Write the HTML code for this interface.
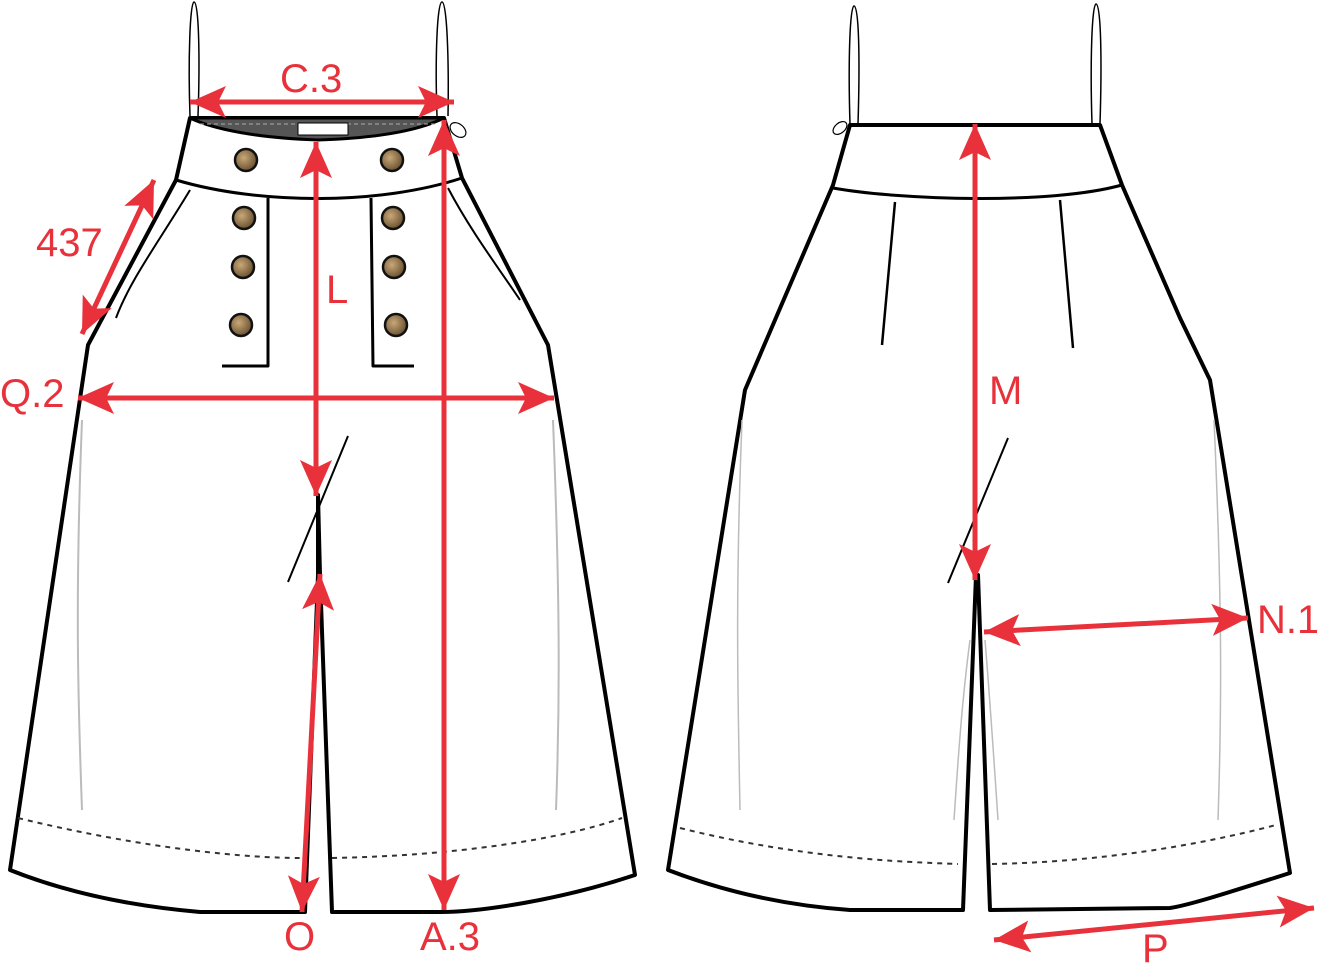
<!DOCTYPE html>
<html><head><meta charset="utf-8"><style>
html,body{margin:0;padding:0;background:#fff;}
svg{display:block;}
text{font-family:"Liberation Sans",sans-serif;fill:#e8313a;font-size:40px;}
</style></head><body>
<svg width="1317" height="964" viewBox="0 0 1317 964" xmlns="http://www.w3.org/2000/svg">
<defs>
<marker id="ah" viewBox="0 0 10 10" refX="10" refY="5" markerWidth="36" markerHeight="32" markerUnits="userSpaceOnUse" orient="auto-start-reverse" preserveAspectRatio="none">
<path d="M0,0 L10,5 L0,10 L2.2,5 Z" fill="#e8313a"/></marker>
<radialGradient id="btn" cx="40%" cy="40%" r="60%"><stop offset="0" stop-color="#c9a878"/><stop offset="1" stop-color="#6b5332"/></radialGradient>
</defs>
<g fill="none" stroke="#000" stroke-linejoin="round">
<path d="M190,116 C188,60 190,2 194,2 C199,2 200,60 198,116" stroke-width="1.5"/>
<path d="M437,116 C435,60 437,2 442,2 C447,2 449,60 448,116" stroke-width="1.5"/>
<path d="M190,118 L444,118 L462,178 L548,345 L635,875 C560,900 480,912 440,912 L332,912 L320,575 L318,495 L318,575 L305,912 L200,912 C120,905 60,890 10,870 L88,345 L176,180 Z" fill="#fff" stroke-width="4"/>
<path d="M190,118 L444,118 C420,130 380,138 318,140 C260,138 215,130 190,118 Z" fill="#555" stroke="#000" stroke-width="3"/>
<path d="M200,124 L436,124" stroke="#aaa" stroke-width="1" stroke-dasharray="4,3"/>
<rect x="298" y="123" width="50" height="12" fill="#fff" stroke="#000" stroke-width="1"/>
<path d="M176,180 C260,205 380,205 462,178" stroke-width="3"/>
<path d="M268,198 L268,366 L222,366" stroke-width="3"/>
<path d="M371,198 L373,366 L414,366" stroke-width="3"/>
<path d="M190,190 C160,240 130,280 116,318" stroke-width="2"/>
<path d="M448,188 C470,230 500,270 520,300" stroke-width="2"/>
<path d="M348,436 L288,582" stroke-width="2"/>
<path d="M18,818 C150,850 250,858 300,858 M332,858 C450,856 560,840 622,818" stroke="#333" stroke-width="2" stroke-dasharray="5,5"/>
<path d="M82,420 C75,600 78,700 82,810 M553,420 C560,600 560,700 556,810" stroke="#bbb" stroke-width="2"/>
<ellipse cx="458" cy="130" rx="6" ry="9" transform="rotate(-50 458 130)" stroke-width="1.2"/>
<ellipse cx="840" cy="128" rx="5" ry="8" transform="rotate(50 840 128)" stroke-width="1.2"/>
<path d="M850,124 C848,60 850,6 854,6 C859,6 860,60 858,124" stroke-width="1.5"/>
<path d="M1092,124 C1090,60 1092,4 1096,4 C1101,4 1102,60 1100,124" stroke-width="1.5"/>
<path d="M850,125 L1100,125 L1122,185 L1180,318 L1210,380 L1290,873 C1230,892 1190,905 1170,908 L990,910 L978,575 L976,575 L963,910 L850,910 C780,905 720,890 668,870 L745,390 L775,320 L833,185 Z" fill="#fff" stroke-width="4"/>
<path d="M833,188 C900,200 1050,205 1122,185" stroke-width="3"/>
<path d="M895,202 L882,345 M1060,200 L1073,348" stroke-width="2.5"/>
<path d="M1008,438 L948,583" stroke-width="2"/>
<path d="M680,828 C800,858 900,862 958,864 M992,864 C1100,862 1200,845 1276,825" stroke="#333" stroke-width="2" stroke-dasharray="5,5"/>
<path d="M742,420 C735,600 738,700 740,810 M1214,420 C1222,600 1222,700 1218,820 M970,640 C962,700 958,760 954,820 M985,640 C990,700 994,760 998,820" stroke="#bbb" stroke-width="1.5"/>
</g>
<g stroke="#111" stroke-width="2.5" fill="url(#btn)">
<circle cx="246" cy="160" r="11"/><circle cx="392" cy="160" r="11"/>
<circle cx="244" cy="218" r="11"/><circle cx="393" cy="218" r="11"/>
<circle cx="243" cy="267" r="11"/><circle cx="394" cy="267" r="11"/>
<circle cx="241" cy="325" r="11"/><circle cx="396" cy="325" r="11"/>
</g>
<g stroke="#e8313a" stroke-width="5" fill="none" stroke-linecap="butt">
<line x1="190" y1="102" x2="454" y2="102" marker-start="url(#ah)" marker-end="url(#ah)"/>
<line x1="316" y1="142" x2="316" y2="496" marker-start="url(#ah)" marker-end="url(#ah)"/>
<line x1="444" y1="120" x2="444" y2="910" marker-start="url(#ah)" marker-end="url(#ah)"/>
<line x1="78" y1="398" x2="554" y2="398" marker-start="url(#ah)" marker-end="url(#ah)"/>
<line x1="154" y1="180" x2="82" y2="334" marker-start="url(#ah)" marker-end="url(#ah)"/>
<line x1="320" y1="574" x2="302" y2="912" marker-start="url(#ah)" marker-end="url(#ah)"/>
<line x1="975" y1="124" x2="975" y2="580" marker-start="url(#ah)" marker-end="url(#ah)"/>
<line x1="984" y1="632" x2="1248" y2="618" marker-start="url(#ah)" marker-end="url(#ah)"/>
<line x1="994" y1="940" x2="1314" y2="908" marker-start="url(#ah)" marker-end="url(#ah)"/>
</g>
<g>
<text x="280" y="92">C.3</text>
<text x="36" y="256">437</text>
<text x="326" y="303">L</text>
<text x="0" y="407">Q.2</text>
<text x="284" y="950">O</text>
<text x="420" y="950">A.3</text>
<text x="989" y="404">M</text>
<text x="1257" y="633">N.1</text>
<text x="1142" y="962">P</text>
</g>
</svg>
</body></html>
